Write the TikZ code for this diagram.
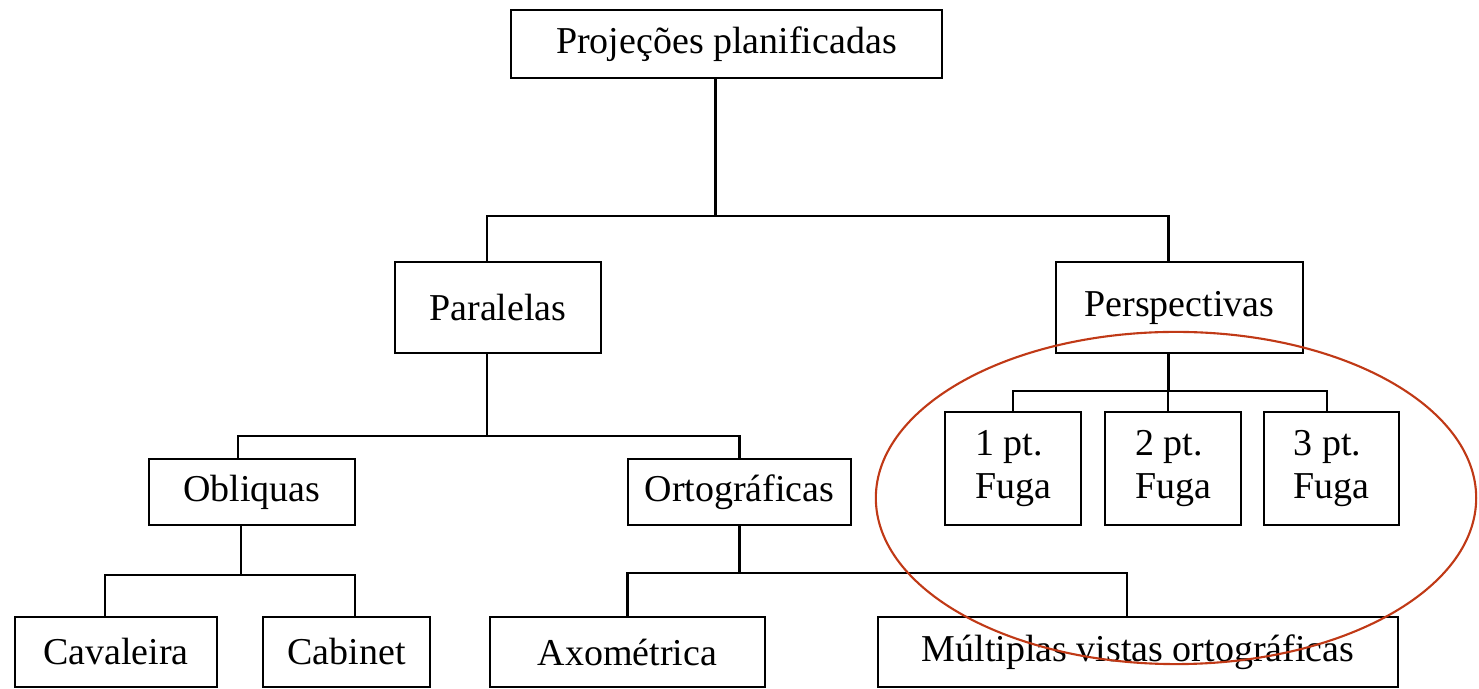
\documentclass[tikz,border=0pt]{standalone}
\usepackage{fontspec}
\setmainfont{Liberation Serif}
\usetikzlibrary{positioning}
\definecolor{contorno}{RGB}{192,57,22}
\tikzset{
  caixa/.style={draw, line width=0.7pt, inner sep=0pt, font=\fontsize{10.8}{12.3}\selectfont},
}

\begin{document}
\begin{tikzpicture}[x=0.01cm, y=-0.01cm, line width=0.7pt]
        \useasboundingbox (0,0) rectangle (1479,689);

        % Raiz
        \node[caixa, minimum width=4.31cm, minimum height=0.68cm] (proj) at (726.5,44) {Projeções planificadas};

        % Segundo nivel
        \node[caixa, minimum width=2.06cm, minimum height=0.91cm] (para) at (498,307.5) {Paralelas};
        \node[caixa, minimum width=2.47cm, minimum height=0.91cm] (pers) at (1179.5,307.5) {Perspectivas};

        % Paralelas
        \node[caixa, minimum width=2.06cm, minimum height=0.66cm] (obl) at (252,492) {Obliquas};
        \node[caixa, minimum width=2.23cm, minimum height=0.66cm] (orto) at (739.5,492) {Ortográficas};

        % Perspectivas
        \node[caixa, minimum width=1.36cm, minimum height=1.13cm, align=left] (f1) at (1013,468.5) {1 pt.\\Fuga};
        \node[caixa, minimum width=1.36cm, minimum height=1.13cm, align=left] (f2) at (1173,468.5) {2 pt.\\Fuga};
        \node[caixa, minimum width=1.35cm, minimum height=1.13cm, align=left] (f3) at (1331.5,468.5) {3 pt.\\Fuga};

        % Ultimo nivel
        \node[caixa, minimum width=2.02cm, minimum height=0.70cm] (cav) at (116,652) {Cavaleira};
        \node[caixa, minimum width=1.67cm, minimum height=0.70cm] (cab) at (346.5,652) {Cabinet};
        \node[caixa, minimum width=2.75cm, minimum height=0.70cm] (axo) at (627.5,652) {Axométrica};
        \node[caixa, minimum width=5.20cm, minimum height=0.70cm] (mult) at (1138,652) {Múltiplas vistas ortográficas};

        % Ligacoes
        \draw ([xshift=-0.11cm]proj.south) -- ++(0,137) coordinate (j1);
        \draw ([xshift=-0.11cm]para.north) |- (j1) -| ([xshift=-0.11cm]pers.north);
        \draw ([xshift=-0.11cm]para.south) -- ++(0,82) coordinate (j2);
        \draw ([xshift=-0.14cm]obl.north) |- (j2) -| (orto.north);
        \draw ([xshift=-0.11cm]obl.south) -- ++(0,49) coordinate (j3);
        \draw ([xshift=-0.11cm]cav.north) |- (j3) -| ([xshift=0.085cm]cab.north);
        \draw (orto.south) -- ++(0,47) coordinate (j4);
        \draw (axo.north) |- (j4) -| ([xshift=-0.11cm]mult.north);
        \draw ([xshift=-0.11cm]pers.south) -- ++(0,37) coordinate (j5);
        \draw (f1.north) |- (j5) -| ([xshift=-0.045cm]f3.north);
        \draw ([xshift=-0.05cm]f2.north) -- ++(0,-22);

        % Destaque
        \draw[contorno, line width=0.6pt] (1176,498) ellipse [x radius=3.0cm, y radius=1.66cm];
\end{tikzpicture}
\end{document}
